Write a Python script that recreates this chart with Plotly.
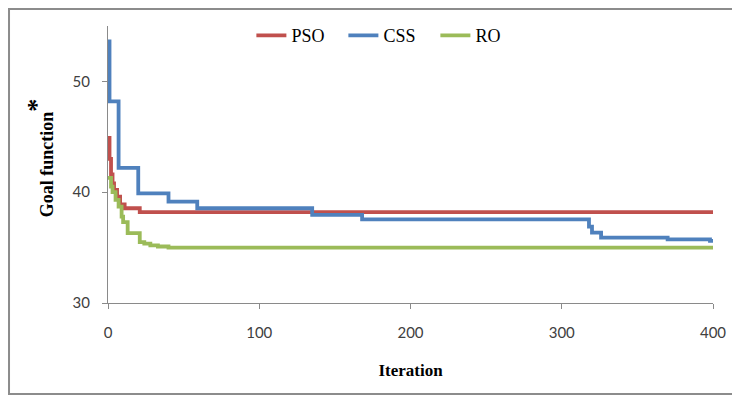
import plotly.graph_objects as go

# ---- data ----
pso_iter = [0, 1, 2, 3, 4, 6, 8, 11, 21, 400]
pso_val = [44.9, 43.0, 41.6, 40.8, 40.2, 39.6, 38.9, 38.55, 38.2, 38.2]

css_iter = [0, 1, 7, 20, 40, 59, 135, 168, 318, 320, 326, 370, 398, 400]
css_val = [53.6, 48.2, 42.2, 39.9, 39.15, 38.55, 37.95, 37.55, 36.9, 36.35, 35.9, 35.75, 35.6, 35.6]

ro_iter = [0, 2, 3, 5, 7, 9, 10, 13, 21, 24, 28, 33, 40, 400]
ro_val = [41.3, 40.5, 40.0, 39.3, 38.7, 37.8, 37.3, 36.3, 35.5, 35.35, 35.2, 35.1, 35.0, 35.0]

series_names = ["PSO", "CSS", "RO"]
series_colors = ["#C0504D", "#4F81BD", "#9BBB59"]

x_ticks = [0, 100, 200, 300, 400]
y_ticks = [30, 40, 50]

fig = go.Figure()
for name, xs, ys, col in zip(series_names,
                             [pso_iter, css_iter, ro_iter],
                             [pso_val, css_val, ro_val],
                             series_colors):
    fig.add_trace(go.Scatter(x=xs, y=ys, mode="lines", name=name,
                             line=dict(color=col, width=3.8, shape="hv")))

axis_col = "#8a8a8a"
tick_font = dict(family="Lato, Liberation Sans, sans-serif", size=15, color="#404040")
title_font = dict(family="Liberation Serif, Times New Roman, serif", size=17, color="#000000")

# page body has an 8px margin, so the figure is 8px smaller than the window
fig.update_layout(
    width=732, height=395,
    margin=dict(l=100, r=27, t=18, b=100, autoexpand=False),
    paper_bgcolor="white", plot_bgcolor="white",
    showlegend=True,
    legend=dict(orientation="h", x=0.237, xanchor="left", y=0.965, yanchor="middle",
                font=dict(family="Liberation Serif, Times New Roman, serif", size=18, color="#000000"),
                bgcolor="rgba(0,0,0,0)", itemwidth=30, tracegroupgap=0,
                entrywidth=47, entrywidthmode="pixels"),
    xaxis=dict(range=[0, 400], tickvals=x_ticks, showgrid=False, zeroline=False,
               showline=True, linecolor=axis_col, linewidth=1,
               ticks="outside", ticklen=5, tickcolor=axis_col,
               tickfont=tick_font, ticklabelstandoff=11, automargin=False,
               title=dict(text="<b>Iteration</b>", font=title_font, standoff=24)),
    yaxis=dict(range=[30, 55], tickvals=y_ticks, showgrid=False, zeroline=False,
               showline=True, linecolor=axis_col, linewidth=1,
               ticks="outside", ticklen=5, tickcolor=axis_col,
               tickfont=tick_font, ticklabelstandoff=9, automargin=False),
    annotations=[dict(text="<b>Goal function<sup><span style='font-size:26px'>*</span></sup></b>",
                      xref="paper", yref="paper", x=-0.113, y=0.525,
                      xanchor="center", yanchor="middle", textangle=-90,
                      showarrow=False, font=dict(family="Liberation Serif, Times New Roman, serif",
                                                 size=18, color="#000000"))],
    shapes=[dict(type="rect", xref="paper", yref="paper",
                 x0=-0.1636, x1=1.036, y0=-0.3285, y1=1.061,
                 line=dict(color="#8c8c8c", width=2), fillcolor="rgba(0,0,0,0)",
                 layer="below")],
)

fig.write_html("out.html")
